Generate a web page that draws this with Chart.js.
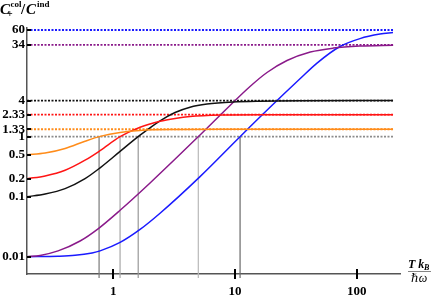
<!DOCTYPE html>
<html><head><meta charset="utf-8">
<script src="https://cdn.jsdelivr.net/npm/chart.js@4/dist/chart.umd.min.js"></script>
<style>html,body{margin:0;padding:0;background:#fff;}#c{display:block;}</style>
</head><body>
<canvas id="c" width="436" height="300"></canvas>
<script>
// ---- data ----
const xTicks = [1, 10, 100];
const xTickLabels = ['1', '10', '100'];
const yTicks = [0.01, 0.1, 0.2, 0.5, 1, 1.33, 2.33, 4, 34, 60];
const yTickLabels = ['0.01', '0.1', '0.2', '0.5', '1', '1.33', '2.33', '4', '34', '60'];

const orangeT = [0.1954, 0.2747, 0.401, 0.5852, 0.7776, 1.1354, 1.6572, 3.56, 7.56, 30, 199];
const orangeC = [0.5, 0.533, 0.636, 0.841, 1.012, 1.18, 1.274, 1.318, 1.333, 1.333, 1.333];

const redT = [0.1954, 0.2747, 0.401, 0.5852, 0.7776, 1.1354, 1.6572, 2.419, 3.214, 4.268, 7.97, 16.05, 199];
const redC = [0.2, 0.222, 0.276, 0.406, 0.586, 1.0, 1.439, 1.813, 2.018, 2.171, 2.30, 2.33, 2.33];

const blackT = [0.1954, 0.2747, 0.401, 0.5852, 0.7776, 1.1354, 1.6572, 2.419, 3.214, 4.268, 5.888, 9.629, 16.05, 34.2, 199];
const blackC = [0.1, 0.111, 0.1365, 0.2, 0.303, 0.569, 1.059, 1.841, 2.531, 3.102, 3.494, 3.787, 3.906, 3.97, 4.0];

const purpleT = [0.1954, 0.2498, 0.3512, 0.5325, 0.7485, 1.1354, 2.002, 5.157, 9.097, 13.28, 18.32, 26.75, 41.56, 64.23, 107.1, 199.4];
const purpleC = [0.01, 0.01052, 0.0125, 0.01828, 0.02917, 0.05934, 0.1692, 1.067, 3.311, 6.866, 11.75, 18.62, 25.8, 29.97, 32.36, 33.5];

const blueT = [0.1954, 0.3512, 0.4844, 0.6683, 0.7776, 1.1354, 1.6572, 2.419, 5.157, 10.99, 19.39, 34.2, 47.19, 72.9, 106.4, 155.4, 198.8];
const blueC = [0.01, 0.01019, 0.01055, 0.01157, 0.0125, 0.01731, 0.02851, 0.05309, 0.2163, 1.0, 3.09, 9.226, 16.86, 31.87, 43.15, 51.29, 54.54];

const limitValues = [60, 34, 4, 2.33, 1.33, 1];
const dropT = [0.763, 1.135, 1.6, 4.99, 11.0];

// ---- styling / layout ----
const X_MIN = 0.195, X_MAX = 227, Y_MIN = 0.00515, Y_MAX = 64.8;
const LINE_END = 199;
const colors = {orange:'#ff8c1a', red:'#ff1414', black:'#111111', purple:'#8a1a8a', blue:'#1a1aff', grey:'#8c8c8c'};
const limitColors = [colors.blue, colors.purple, colors.black, colors.red, colors.orange, colors.grey];
const dropColors = ['#7a7a7a', '#a8a8a8', '#999999', '#b8b8b8', '#6a6a6a'];
const SERIF = '"Liberation Serif", "DejaVu Serif", serif';

const zip = (xs, ys) => xs.map((x, i) => ({x, y: ys[i]}));

const curve = (label, xs, ys, color) => ({
  label, data: zip(xs, ys), borderColor: color, borderWidth: 1.5,
  pointRadius: 0, fill: false, cubicInterpolationMode: 'monotone'
});

const datasets = [
  curve('orange', orangeT, orangeC, colors.orange),
  curve('red', redT, redC, colors.red),
  curve('black', blackT, blackC, colors.black),
  curve('purple', purpleT, purpleC, colors.purple),
  curve('blue', blueT, blueC, colors.blue),
];
limitValues.forEach((v, i) => datasets.push({
  label: 'limit ' + v, data: [{x: X_MIN, y: v}, {x: LINE_END, y: v}],
  borderColor: limitColors[i], borderWidth: 1.8, borderDash: [2, 1.5],
  pointRadius: 0, fill: false, tension: 0
}));
dropT.forEach((t, i) => datasets.push({
  label: 'drop ' + t, data: [{x: t, y: 1}, {x: t, y: 0.0044}],
  borderColor: dropColors[i], borderWidth: 1.2, pointRadius: 0, fill: false, clip: false
}));

const extras = {
  id: 'extras',
  afterDraw(chart) {
    const {ctx, chartArea: a, scales: {x, y}} = chart;
    ctx.save();
    // tick marks
    ctx.strokeStyle = '#000'; ctx.lineWidth = 2;
    yTicks.forEach(v => { const py = Math.round(y.getPixelForValue(v));
      ctx.beginPath(); ctx.moveTo(a.left, py); ctx.lineTo(a.left + 4, py); ctx.stroke(); });
    xTicks.forEach(v => { const px = Math.round(x.getPixelForValue(v));
      ctx.beginPath(); ctx.moveTo(px, a.bottom - 5); ctx.lineTo(px, a.bottom + 5); ctx.stroke(); });
    // y title
    ctx.fillStyle = '#000'; ctx.textBaseline = 'alphabetic'; ctx.textAlign = 'left';
    ctx.font = 'bold italic 15px ' + SERIF; ctx.fillText('C', 0, 14);
    ctx.font = 'bold 10px ' + SERIF; ctx.fillText('+', 7, 17);
    ctx.font = 'bold 9px ' + SERIF; ctx.fillText('col', 10.5, 7);
    ctx.font = 'bold 15px ' + SERIF; ctx.fillText('/', 21, 14);
    ctx.font = 'bold italic 15px ' + SERIF; ctx.fillText('C', 26, 14);
    ctx.font = 'bold 9px ' + SERIF; ctx.fillText('ind', 37, 7);
    // x title
    ctx.font = 'bold italic 12px ' + SERIF; ctx.fillText('T k', 408, 267.5);
    ctx.font = 'bold italic 8px ' + SERIF; ctx.fillText('B', 424, 270);
    ctx.strokeStyle = '#666'; ctx.lineWidth = 0.8;
    ctx.beginPath(); ctx.moveTo(408, 271.5); ctx.lineTo(431, 271.5); ctx.stroke();
    ctx.font = 'italic 12px ' + SERIF; ctx.textAlign = 'center'; ctx.fillText('\u210F\u03C9', 419, 282);
    ctx.restore();
  }
};

new Chart(document.getElementById('c'), {
  type: 'line',
  data: {datasets},
  plugins: [extras],
  options: {
    responsive: false, animation: false, events: [],
    layout: {padding: {top: 28, right: 36, left: 0, bottom: 0}},
    plugins: {legend: {display: false}, tooltip: {enabled: false}, title: {display: false}},
    scales: {
      x: {
        type: 'logarithmic', min: X_MIN, max: X_MAX,
        afterBuildTicks: s => { s.ticks = xTicks.map(v => ({value: v})); },
        afterFit: s => { s.height = 26; },
        ticks: {autoSkip: false, maxRotation: 0, padding: 10, color: '#000',
          font: {family: SERIF, size: 13, weight: 'bold'},
          callback: (v, i) => xTickLabels[i]},
        grid: {drawOnChartArea: false, drawTicks: false},
        border: {display: true, color: '#555', width: 1.5}
      },
      y: {
        type: 'logarithmic', min: Y_MIN, max: Y_MAX,
        afterBuildTicks: s => { s.ticks = yTicks.map(v => ({value: v})); },
        afterFit: s => { s.width = 27; },
        ticks: {autoSkip: false, padding: 2, color: '#000',
          font: {family: SERIF, size: 13, weight: 'bold'},
          callback: (v, i) => yTickLabels[i]},
        grid: {drawOnChartArea: false, drawTicks: false},
        border: {display: true, color: '#555', width: 1.5}
      }
    }
  }
});
</script>
</body></html>
